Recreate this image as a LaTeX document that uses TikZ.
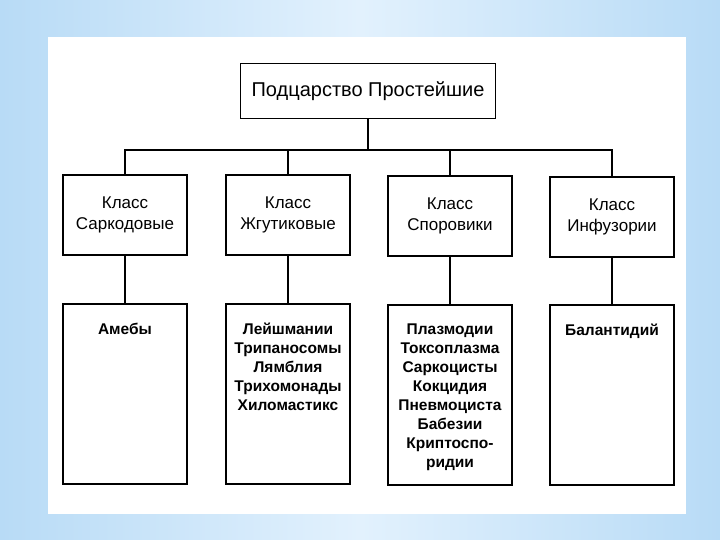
\documentclass[tikz,border=0pt]{standalone}
\usepackage{fontspec}
\setmainfont{Liberation Sans}
\definecolor{slide_blue}{RGB}{184,219,246}
\definecolor{slide_light}{RGB}{226,241,253}

\begin{document}
\begin{tikzpicture}[x=1pt, y=-1pt, line width=1.7pt,
  top_node/.style={draw, minimum width=255pt, minimum height=55pt, font=\fontsize{20}{24}\selectfont},
  class_node/.style={draw, minimum width=124pt, minimum height=80pt, align=center, font=\fontsize{17}{21}\selectfont},
  group_node/.style={draw, minimum width=124pt, minimum height=180pt},
  group_text/.style={anchor=north, yshift=-16pt, align=center, font=\fontsize{15.5}{19}\selectfont\bfseries}]
        \useasboundingbox (0,0) rectangle (720,540);
        \shade[left color=slide_blue, right color=slide_blue, middle color=slide_light, draw=none] (0,0) rectangle (720,540);
        \fill[white] (48,37) rectangle (686,514);

        \node[top_node](top) at (368,91){Подцарство Простейшие};

        \node[class_node](c1) at (125,215){Класс\\Саркодовые};
        \node[class_node](c2) at (288,215){Класс\\Жгутиковые};
        \node[class_node](c3) at (450,216){Класс\\Споровики};
        \node[class_node](c4) at (612,217){Класс\\Инфузории};

        \node[group_node, label={[group_text]north:Амебы}](g1) at (125,394){};
        \node[group_node, label={[group_text]north:{Лейшмании\\Трипаносомы\\Лямблия\\Трихомонады\\Хиломастикс}}](g2) at (288,394){};
        \node[group_node, label={[group_text]north:{Плазмодии\\Токсоплазма\\Саркоцисты\\Кокцидия\\Пневмоциста\\Бабезии\\Криптоспо-\\ридии}}](g3) at (450,395){};
        \node[group_node, label={[group_text]north:Балантидий}](g4) at (612,395){};

        \coordinate (bar) at (368,150);
        \draw (top.south) -- (top.south |- bar);
        \draw (c1.north) |- (bar) -| (c4.north);
        \draw (c2.north) -- (c2.north |- bar);
        \draw (c3.north) -- (c3.north |- bar);
        \draw (c1) -- (g1);
        \draw (c2) -- (g2);
        \draw (c3) -- (g3);
        \draw (c4) -- (g4);
\end{tikzpicture}
\end{document}
